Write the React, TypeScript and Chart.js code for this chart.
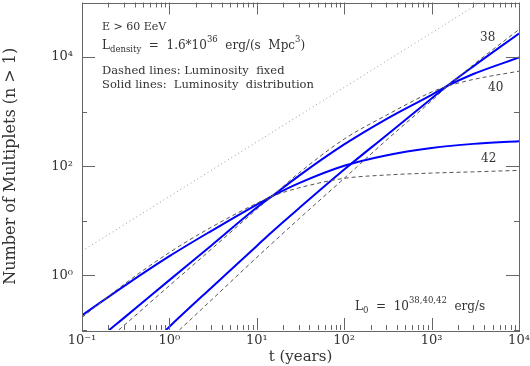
import React, { useEffect, useRef } from 'react';
import { Chart, registerables } from 'chart.js';

Chart.register(...registerables);

// ---------- data ----------
const xLabelValues = [0.1, 1, 10, 100, 1000, 10000];
const xLabelTexts = ['10⁻¹', '10⁰', '10¹', '10²', '10³', '10⁴'];
const yLabelValues = [1, 100, 10000];
const yLabelTexts = ['10⁰', '10²', '10⁴'];
const yDecades = [0.1, 1, 10, 100, 1000, 10000, 100000];
const yMajorDecades = [1, 100, 10000];
const xMinorMultipliers = [2, 3, 4, 5, 6, 7, 8, 9];

// dotted reference line
const dottedT = [0.1, 3600];
const dottedN = [2.8, 100000];

// solid lines: luminosity distribution
const solid38T = [0.914, 1, 3, 10, 14.8, 30, 100, 300, 1000, 1479, 3000, 10000];
const solid38N = [0.1, 0.115, 0.59, 3.47, 6.2, 16.7, 87, 363, 1740, 2900, 6760, 27000];

const solid40T = [0.205, 0.3, 1, 3, 10, 14.8, 30, 100, 300, 1000, 1479, 3000, 10000];
const solid40N = [0.1, 0.165, 0.82, 3.5, 17.5, 28, 66, 251, 724, 2040, 2900, 4890, 9840];

const solid42T = [0.1, 0.3, 1, 3, 10, 14.8, 30, 100, 300, 1000, 3000, 10000];
const solid42N = [0.185, 0.63, 2.25, 6.5, 19.8, 28, 48.5, 102, 158, 216, 257, 287];

// dashed lines: luminosity fixed
const dashed38T = [1.3, 3, 10, 30, 100, 300, 1000, 1479, 3000, 10000];
const dashed38N = [0.1, 0.35, 2.14, 10.7, 60, 295, 1585, 2820, 7210, 32000];

const dashed40T = [0.263, 0.3, 1, 3, 10, 14.8, 30, 100, 300, 1000, 1479, 3000, 10000];
const dashed40N = [0.1, 0.12, 0.65, 3.0, 16.3, 28, 74, 315, 851, 2290, 2900, 3890, 5520];

const dashed42T = [0.1, 0.3, 1, 3, 10, 14.8, 30, 100, 300, 1000, 3000, 10000];
const dashed42N = [0.17, 0.68, 2.63, 7.6, 21, 28, 40, 60, 69, 75, 79, 84];

const FONT = '"DejaVu Serif", "Liberation Serif", serif';
const TEXT = '#333';

const pts = (t: number[], n: number[]) => t.map((x, i) => ({ x, y: n[i] }));

type Seg = { t: string; s: number; dy: number };

function drawRich(ctx: CanvasRenderingContext2D, x: number, y: number, segs: Seg[]) {
  let cx = x;
  for (const g of segs) {
    ctx.font = `${g.s}px ${FONT}`;
    ctx.fillText(g.t, cx, y + g.dy);
    cx += ctx.measureText(g.t).width;
  }
}

const framePlugin = {
  id: 'frameTicks',
  afterDatasetsDraw(chart: any) {
    const ctx: CanvasRenderingContext2D = chart.ctx;
    const { left, right, top, bottom } = chart.chartArea;
    const xs = chart.scales.x;
    const ys = chart.scales.y;
    ctx.save();
    ctx.strokeStyle = '#666';
    ctx.lineWidth = 1;
    ctx.beginPath();
    for (let k = 0; k < xLabelValues.length; k++) {
      const dec = xLabelValues[k];
      const px = Math.round(xs.getPixelForValue(dec)) + 0.5;
      ctx.moveTo(px, bottom); ctx.lineTo(px, bottom - 12);
      ctx.moveTo(px, top); ctx.lineTo(px, top + 12);
      if (k < xLabelValues.length - 1) {
        for (const m of xMinorMultipliers) {
          const p = Math.round(xs.getPixelForValue(dec * m)) + 0.5;
          ctx.moveTo(p, bottom); ctx.lineTo(p, bottom - 5);
          ctx.moveTo(p, top); ctx.lineTo(p, top + 5);
        }
      }
    }
    for (const d of yDecades) {
      const py = Math.round(ys.getPixelForValue(d)) + 0.5;
      const len = yMajorDecades.includes(d) ? 13 : 5;
      ctx.moveTo(left, py); ctx.lineTo(left + len, py);
      ctx.moveTo(right, py); ctx.lineTo(right - len, py);
    }
    ctx.stroke();
    ctx.strokeRect(Math.round(left) + 0.5, Math.round(top) + 0.5, Math.round(right - left), Math.round(bottom - top));
    ctx.restore();
  },
  afterDraw(chart: any) {
    const ctx: CanvasRenderingContext2D = chart.ctx;
    ctx.save();
    ctx.fillStyle = TEXT;
    ctx.textBaseline = 'alphabetic';
    ctx.textAlign = 'left';
    drawRich(ctx, 102, 29.5, [{ t: 'E > 60 EeV', s: 11, dy: 0 }]);
    drawRich(ctx, 102, 48.5, [
      { t: 'L', s: 12, dy: 0 },
      { t: 'density', s: 8.5, dy: 3.5 },
      { t: '  =  1.6*10', s: 12, dy: 0 },
      { t: '36', s: 8.5, dy: -7 },
      { t: '  erg/(s  Mpc', s: 12, dy: 0 },
      { t: '3', s: 8.5, dy: -7 },
      { t: ')', s: 12, dy: 0 },
    ]);
    drawRich(ctx, 102, 74, [{ t: 'Dashed lines: Luminosity  fixed', s: 11.5, dy: 0 }]);
    drawRich(ctx, 102, 87.5, [{ t: 'Solid lines:  Luminosity  distribution', s: 11.5, dy: 0 }]);
    drawRich(ctx, 480, 41, [{ t: '38', s: 12, dy: 0 }]);
    drawRich(ctx, 488, 91, [{ t: '40', s: 12, dy: 0 }]);
    drawRich(ctx, 481, 162, [{ t: '42', s: 12, dy: 0 }]);
    drawRich(ctx, 355, 310, [
      { t: 'L', s: 12, dy: 0 },
      { t: '0', s: 8.5, dy: 3 },
      { t: '  =  10', s: 12, dy: 0 },
      { t: '38,40,42', s: 8.5, dy: -7 },
      { t: '  erg/s', s: 12, dy: 0 },
    ]);
    ctx.restore();
  },
};

const zeroPad = (s: any) => {
  s.paddingTop = 0;
  s.paddingBottom = 0;
  s.paddingLeft = 0;
  s.paddingRight = 0;
};

export default function App() {
  const ref = useRef<HTMLCanvasElement | null>(null);
  useEffect(() => {
    if (!ref.current) return;
    const solid = (t: number[], n: number[]) => ({
      data: pts(t, n),
      borderColor: '#0000ff',
      borderWidth: 2,
      pointRadius: 0,
      fill: false,
      cubicInterpolationMode: 'monotone' as const,
    });
    const dashed = (t: number[], n: number[]) => ({
      data: pts(t, n),
      borderColor: '#555',
      borderWidth: 1,
      borderDash: [4, 3],
      pointRadius: 0,
      fill: false,
      cubicInterpolationMode: 'monotone' as const,
    });
    const chart = new Chart(ref.current, {
      type: 'line',
      data: {
        datasets: [
          {
            data: pts(dottedT, dottedN),
            borderColor: '#999',
            borderWidth: 1,
            borderDash: [1, 3],
            pointRadius: 0,
            fill: false,
          },
          dashed(dashed38T, dashed38N),
          dashed(dashed40T, dashed40N),
          dashed(dashed42T, dashed42N),
          solid(solid38T, solid38N),
          solid(solid40T, solid40N),
          solid(solid42T, solid42N),
        ],
      },
      options: {
        animation: false,
        responsive: false,
        events: [],
        layout: { padding: { left: 0, right: 11, top: 2.5, bottom: 0 } },
        plugins: { legend: { display: false }, tooltip: { enabled: false } },
        scales: {
          x: {
            type: 'logarithmic',
            min: 0.1,
            max: 10000,
            grid: { display: false, drawTicks: false },
            border: { display: false },
            afterBuildTicks: (s: any) => {
              s.ticks = xLabelValues.map((v) => ({ value: v }));
            },
            afterFit: (s: any) => {
              s.height = 36;
              zeroPad(s);
            },
            ticks: {
              autoSkip: false,
              maxRotation: 0,
              padding: 3,
              color: TEXT,
              font: { family: FONT, size: 13 },
              callback: (_v: any, i: number) => xLabelTexts[i],
            },
            title: {
              display: true,
              text: 't (years)',
              color: TEXT,
              font: { family: FONT, size: 15 },
              padding: { top: 0, bottom: 0 },
            },
          },
          y: {
            type: 'logarithmic',
            min: 0.1,
            max: 100000,
            grid: { display: false, drawTicks: false },
            border: { display: false },
            afterBuildTicks: (s: any) => {
              s.ticks = yLabelValues.map((v) => ({ value: v }));
            },
            afterFit: (s: any) => {
              s.width = 82;
              zeroPad(s);
            },
            ticks: {
              autoSkip: false,
              padding: 9,
              color: TEXT,
              font: { family: FONT, size: 13 },
              callback: (_v: any, i: number) => yLabelTexts[i],
            },
            title: {
              display: true,
              text: 'Number of Multiplets (n > 1)',
              color: TEXT,
              font: { family: FONT, size: 16 },
              padding: { top: 1, bottom: 0 },
            },
          },
        },
      },
      plugins: [framePlugin],
    } as any);
    return () => chart.destroy();
  }, []);
  return (
    <div style={{ position: 'absolute', left: 0, top: 0, width: 530, height: 366 }}>
      <canvas ref={ref} width={530} height={366} style={{ width: 530, height: 366 }} />
    </div>
  );
}
